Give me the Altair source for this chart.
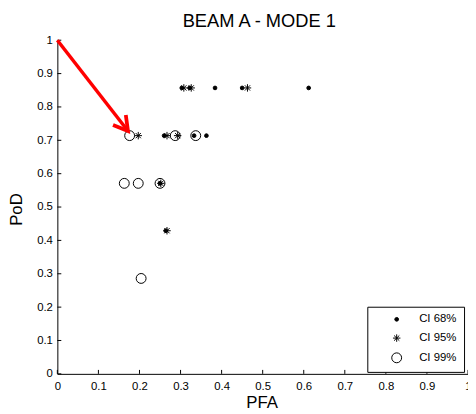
import math
import altair as alt
import pandas as pd

FONT = "Liberation Sans"

ci_labels = ["CI 68%", "CI 95%", "CI 99%"]

ci68_pfa = [0.303, 0.322, 0.384, 0.450, 0.612, 0.260, 0.333, 0.363, 0.250, 0.264]
ci68_pod = [0.857, 0.857, 0.857, 0.857, 0.857, 0.714, 0.714, 0.714, 0.571, 0.429]

ci95_pfa = [0.308, 0.326, 0.463, 0.197, 0.267, 0.293, 0.252, 0.267]
ci95_pod = [0.857, 0.857, 0.857, 0.714, 0.714, 0.714, 0.571, 0.429]

ci99_pfa = [0.176, 0.287, 0.337, 0.163, 0.197, 0.250, 0.204]
ci99_pod = [0.714, 0.714, 0.714, 0.571, 0.571, 0.571, 0.286]

tick_values = [0.0, 0.1, 0.2, 0.3, 0.4, 0.5, 0.6, 0.7, 0.8, 0.9, 1.0]

arrow_pfa = [0.0, 0.172]
arrow_pod = [1.0, 0.728]

W, H = 416, 338

rows = []
for lab, xs, ys in zip(ci_labels, [ci68_pfa, ci95_pfa, ci99_pfa], [ci68_pod, ci95_pod, ci99_pod]):
    for x, y in zip(xs, ys):
        rows.append({"pfa": x, "pod": y, "ci": lab})
pts = pd.DataFrame(rows)

xscale = alt.Scale(domain=[0, 1], nice=False, zero=False)
yscale = alt.Scale(domain=[0, 1], nice=False, zero=False)

x_axis = alt.Axis(values=tick_values, format=".1~f", grid=False, ticks=False, tickSize=0,
                  domainColor="black", domainWidth=1, labelFont=FONT, labelFontSize=11.5,
                  labelColor="black", labelPadding=6.5, labelFlush=False, labelOverlap=False,
                  titleFont=FONT, titleFontSize=17, titleFontWeight="normal", titleColor="black",
                  titleX=207, titleY=34, titleBaseline="alphabetic", titleAlign="center")
y_axis = alt.Axis(values=tick_values, format=".1~f", grid=False, ticks=False, tickSize=0,
                  domainColor="black", domainWidth=1, labelFont=FONT, labelFontSize=11.5,
                  labelColor="black", labelPadding=5, labelFlush=False, labelOverlap=False,
                  titleFont=FONT, titleFontSize=17, titleFontWeight="normal", titleColor="black",
                  titleX=-36, titleY=171, titleBaseline="alphabetic", titleAlign="center",
                  titleAngle=270)


def X():
    return alt.X("pfa:Q", scale=xscale, axis=x_axis, title="PFA")


def Y():
    return alt.Y("pod:Q", scale=yscale, axis=y_axis, title="PoD")


ASTERISK = "M-1,0L1,0M0,-1L0,1M-0.7,-0.7L0.7,0.7M-0.7,0.7L0.7,-0.7"
CHEVRON = "M-0.58,1L0,0L0.58,1"

legend = alt.Legend(title=None, orient="none", legendX=314, legendY=270,
                    strokeColor="black", fillColor="white", padding=7, cornerRadius=0,
                    labelFont=FONT, labelFontSize=11.5, labelColor="black",
                    symbolStrokeWidth=1, rowPadding=6,
                    symbolOffset=17, labelOffset=17)

points = alt.Chart(pts).mark_point(filled=True, strokeWidth=1, opacity=1).encode(
    x=X(), y=Y(),
    shape=alt.Shape("ci:N", scale=alt.Scale(domain=ci_labels, range=["circle", ASTERISK, "circle"]), legend=legend),
    fill=alt.Fill("ci:N", scale=alt.Scale(domain=ci_labels, range=["black", "transparent", "transparent"]), legend=legend),
    stroke=alt.Stroke("ci:N", scale=alt.Scale(domain=ci_labels, range=["black", "black", "black"]), legend=legend),
    size=alt.Size("ci:N", scale=alt.Scale(domain=ci_labels, range=[14, 100, 81]), legend=legend),
)

xt = alt.Chart(pd.DataFrame({"pfa": tick_values})).mark_rule(color="black", strokeWidth=1).encode(
    x=X(), y=alt.value(H), y2=alt.value(H - 4))
yt = alt.Chart(pd.DataFrame({"pod": tick_values})).mark_rule(color="black", strokeWidth=1).encode(
    y=Y(), x=alt.value(0), x2=alt.value(4))

arrow_df = pd.DataFrame({"pfa": arrow_pfa, "pod": arrow_pod})
shaft = alt.Chart(arrow_df).mark_line(color="red", strokeWidth=3.5).encode(x=X(), y=Y())

dx = (arrow_pfa[1] - arrow_pfa[0]) * W
dy = (arrow_pod[0] - arrow_pod[1]) * H
ang = math.degrees(math.atan2(dy, dx)) + 90
head = alt.Chart(arrow_df.iloc[[1]]).mark_point(shape=CHEVRON, angle=ang, size=800, filled=False,
                                                 stroke="red", strokeWidth=3.8, opacity=1,
                                                 strokeJoin="miter").encode(x=X(), y=Y())

chart = alt.layer(xt, yt, points, shaft, head).properties(
    width=W, height=H,
    title=alt.Title("BEAM A - MODE 1", fontSize=18.5, font=FONT, fontWeight="normal", color="black",
                    frame="group", anchor="middle", offset=3, dx=-3.5),
    autosize=alt.AutoSizeParams(type="none"),
    padding={"left": 50, "top": 30, "right": 0, "bottom": 36},
).configure_view(stroke=None)

chart.save("out.html", embed_options={"renderer": "svg", "actions": False})
